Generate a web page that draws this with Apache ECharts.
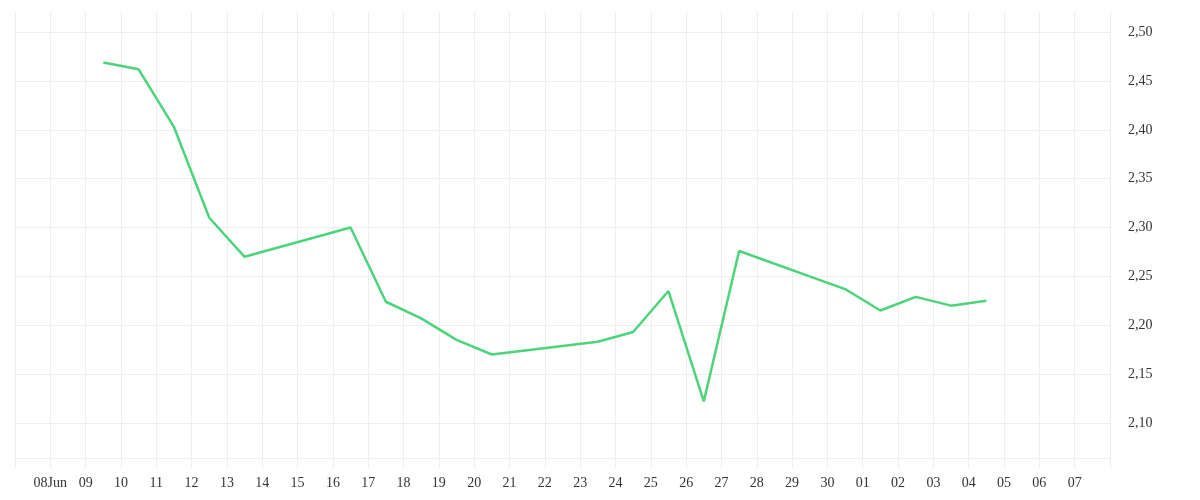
<!DOCTYPE html>
<html>
<head>
<meta charset="utf-8">
<script src="https://cdn.jsdelivr.net/npm/echarts@6/dist/echarts.min.js"></script>
<style>
  html, body { margin: 0; padding: 0; background: #ffffff; }
  #chart { width: 1200px; height: 500px; }
</style>
</head>
<body>
<div id="chart"></div>
<script>
// Axis day ticks: 07 Jun .. 08 Jul (first and last unlabeled)
const tickLabels = ['', '08Jun', '09', '10', '11', '12', '13', '14', '15', '16', '17', '18', '19', '20',
  '21', '22', '23', '24', '25', '26', '27', '28', '29', '30', '01', '02', '03', '04', '05', '06', '07', ''];
const axisStart = '2024-06-07';

// Observation dates and values
const dates = ['2024-06-09', '2024-06-10', '2024-06-11', '2024-06-12', '2024-06-13',
  '2024-06-16', '2024-06-17', '2024-06-18', '2024-06-19', '2024-06-20',
  '2024-06-23', '2024-06-24', '2024-06-25', '2024-06-26', '2024-06-27',
  '2024-06-30', '2024-07-01', '2024-07-02', '2024-07-03', '2024-07-04'];
const values = [2.469, 2.462, 2.403, 2.310, 2.270,
  2.300, 2.224, 2.207, 2.185, 2.170,
  2.183, 2.193, 2.235, 2.122, 2.276,
  2.237, 2.215, 2.229, 2.220, 2.225];

const DAY = 86400000;
function dayOffset(d) {
  return (Date.parse(d + 'T12:00:00Z') - Date.parse(axisStart + 'T00:00:00Z')) / DAY;
}
const seriesData = dates.map((d, i) => [dayOffset(d), values[i]]);

const chart = echarts.init(document.getElementById('chart'), null, { renderer: 'canvas' });
const gridColor = '#eeeeee';
const textStyle = { fontFamily: 'Liberation Serif', fontSize: 14, color: '#333333' };

chart.setOption({
  animation: false,
  backgroundColor: '#ffffff',
  grid: { left: 15, right: 90, top: 12, bottom: 42, containLabel: false },
  xAxis: {
    type: 'value',
    min: 0,
    max: tickLabels.length - 1,
    interval: 1,
    axisLine: { show: true, lineStyle: { color: gridColor, width: 1 } },
    axisTick: { show: true, length: 10, lineStyle: { color: gridColor, width: 1 } },
    splitLine: { show: true, lineStyle: { color: gridColor, width: 1 } },
    axisLabel: Object.assign({
      margin: 18,
      showMinLabel: true,
      showMaxLabel: true,
      formatter: function (v) { return tickLabels[Math.round(v)] || ''; }
    }, textStyle)
  },
  yAxis: {
    type: 'value',
    position: 'right',
    min: 2.064,
    max: 2.5207,
    splitNumber: 9,
    scale: true,
    axisLine: { show: false },
    axisTick: { show: false },
    splitLine: { show: true, showMaxLine: false, lineStyle: { color: gridColor, width: 1 } },
    axisLabel: Object.assign({
      margin: 18,
      showMinLabel: false,
      showMaxLabel: false,
      formatter: function (v) { return v.toFixed(2).replace('.', ','); }
    }, textStyle)
  },
  series: [{
    type: 'line',
    data: seriesData,
    showSymbol: false,
    symbol: 'none',
    smooth: false,
    lineStyle: { color: '#4cd47a', width: 2.5 },
    itemStyle: { color: '#4cd47a' }
  }]
});
</script>
</body>
</html>
